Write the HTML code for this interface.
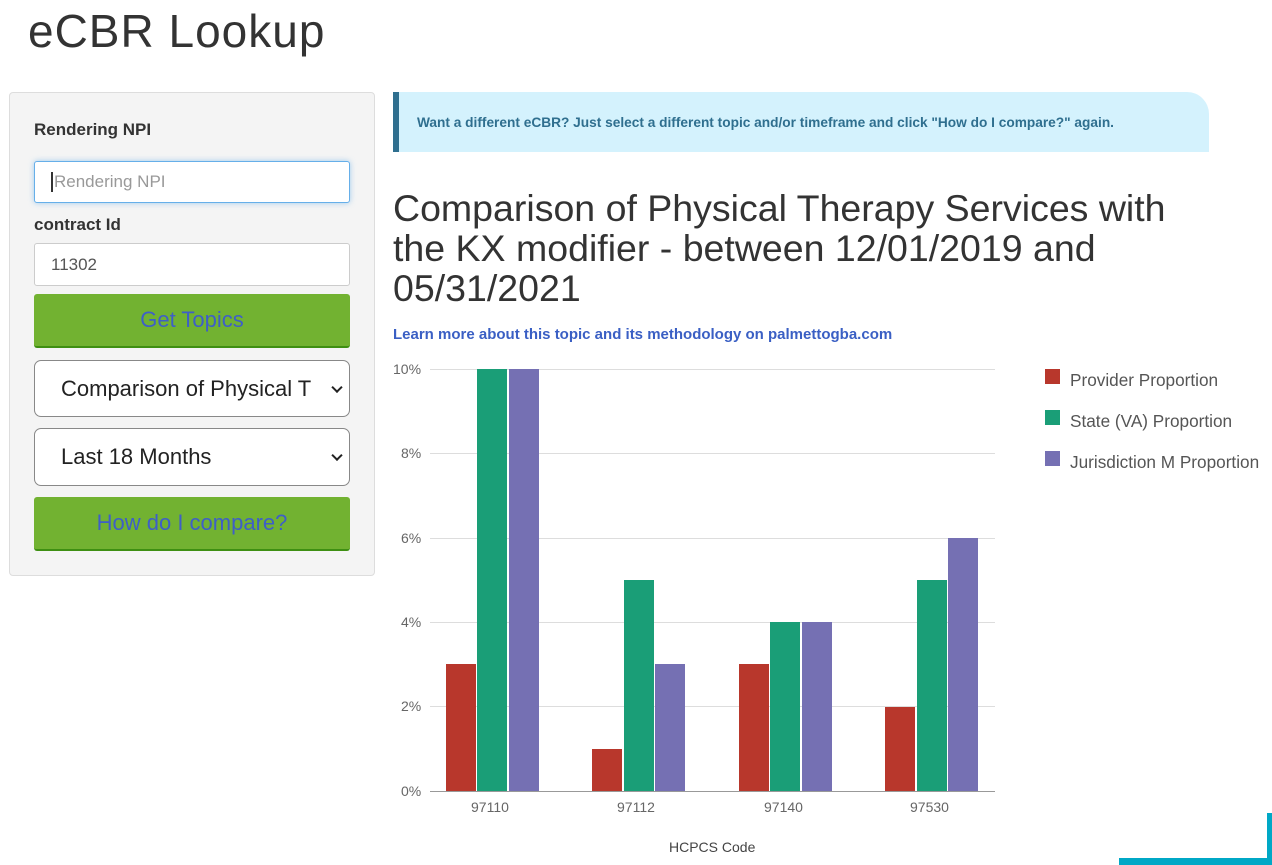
<!DOCTYPE html>
<html><head><meta charset="utf-8"><style>
*{box-sizing:border-box;margin:0;padding:0}
body{width:1272px;height:865px;background:#fff;font-family:"Liberation Sans",Arial,sans-serif;position:relative;overflow:hidden;color:#333}
.a{position:absolute}
.lbl{font-weight:bold;font-size:17px;color:#333}
.inp{background:#fff;border:1px solid #ccc;border-radius:3px;font-size:17px;padding-left:16px;display:flex;align-items:center}
.btn{background:#72b231;border-bottom:2px solid #3e8f12;border-radius:3px;color:#3e5fc7;font-size:22px;display:flex;align-items:center;justify-content:center}
.sel{background:#fff;border:1px solid #888;border-radius:7px;font-size:22px;color:#222;padding-left:26px;display:flex;align-items:center}
.chev{position:absolute;right:8px;top:50%;width:8px;height:8px;border-right:2px solid #222;border-bottom:2px solid #222;transform:translateY(-70%) rotate(45deg)}
.tick{font-size:14px;color:#666}
.grid{position:absolute;left:430px;width:565px;height:1px;background:#ddd}
.bar{position:absolute;width:30px}
.r{background:#b8372c}.g{background:#1a9e77}.p{background:#7570b3}
.leg{font-size:17.2px;color:#555}
</style></head><body>
<div class="a" style="left:28px;top:4px;font-size:46px;color:#333;letter-spacing:1px">eCBR Lookup</div>

<div class="a" style="left:9px;top:92px;width:366px;height:484px;background:#f4f4f4;border:1px solid #ddd;border-radius:4px"></div>
<div class="a lbl" style="left:34px;top:120px">Rendering NPI</div>
<div class="a inp" style="left:34px;top:161px;width:316px;height:42px;border-color:#66afe9;box-shadow:0 0 6px rgba(102,175,233,.6);color:#999"><span style="border-left:2px solid #333;padding-left:1px">Rendering NPI</span></div>
<div class="a lbl" style="left:34px;top:215px">contract Id</div>
<div class="a inp" style="left:34px;top:243px;width:316px;height:43px;color:#555">11302</div>
<div class="a btn" style="left:34px;top:294px;width:316px;height:54px">Get Topics</div>
<div class="a sel" style="left:34px;top:360px;width:316px;height:57px">Comparison of Physical T<div class="chev"></div></div>
<div class="a sel" style="left:34px;top:428px;width:316px;height:58px">Last 18 Months<div class="chev"></div></div>
<div class="a btn" style="left:34px;top:497px;width:316px;height:54px">How do I compare?</div>

<div class="a" style="left:393px;top:92px;width:816px;height:60px;background:#d4f2fd;border-left:6px solid #2f6f8f;border-radius:0 22px 0 0"></div>
<div class="a" style="left:417px;top:115px;font-size:13.7px;font-weight:bold;color:#2f6f8f">Want a different eCBR? Just select a different topic and/or timeframe and click "How do I compare?" again.</div>

<div class="a" style="left:393px;top:188px;font-size:37.5px;line-height:40px;color:#333;width:840px">Comparison of Physical Therapy Services with<br>the KX modifier - between 12/01/2019 and<br>05/31/2021</div>
<div class="a" style="left:393px;top:326px;font-size:15px;font-weight:bold;color:#3a5fc4">Learn more about this topic and its methodology on palmettogba.com</div>

<div class="grid" style="top:369px"></div>
<div class="grid" style="top:453px"></div>
<div class="grid" style="top:538px"></div>
<div class="grid" style="top:622px"></div>
<div class="grid" style="top:706px"></div>
<div class="grid" style="top:791px;background:#999"></div>
<div class="a tick" style="left:393px;top:361px">10%</div>
<div class="a tick" style="left:401px;top:445px">8%</div>
<div class="a tick" style="left:401px;top:530px">6%</div>
<div class="a tick" style="left:401px;top:614px">4%</div>
<div class="a tick" style="left:401px;top:698px">2%</div>
<div class="a tick" style="left:401px;top:783px">0%</div>

<div class="bar r" style="left:446px;top:664px;height:127px"></div>
<div class="bar g" style="left:477px;top:369px;height:422px"></div>
<div class="bar p" style="left:509px;top:369px;height:422px"></div>
<div class="bar r" style="left:592px;top:749px;height:42px"></div>
<div class="bar g" style="left:624px;top:580px;height:211px"></div>
<div class="bar p" style="left:655px;top:664px;height:127px"></div>
<div class="bar r" style="left:739px;top:664px;height:127px"></div>
<div class="bar g" style="left:770px;top:622px;height:169px"></div>
<div class="bar p" style="left:802px;top:622px;height:169px"></div>
<div class="bar r" style="left:885px;top:707px;height:84px"></div>
<div class="bar g" style="left:917px;top:580px;height:211px"></div>
<div class="bar p" style="left:948px;top:538px;height:253px"></div>

<div class="a tick" style="left:471px;top:799px">97110</div>
<div class="a tick" style="left:617px;top:799px">97112</div>
<div class="a tick" style="left:764px;top:799px">97140</div>
<div class="a tick" style="left:910px;top:799px">97530</div>
<div class="a tick" style="left:669px;top:839px;color:#444">HCPCS Code</div>

<div class="a r" style="left:1045px;top:369px;width:15px;height:15px"></div>
<div class="a leg" style="left:1070px;top:370px">Provider Proportion</div>
<div class="a g" style="left:1045px;top:410px;width:15px;height:15px"></div>
<div class="a leg" style="left:1070px;top:411px">State (VA) Proportion</div>
<div class="a p" style="left:1045px;top:451px;width:15px;height:15px"></div>
<div class="a leg" style="left:1070px;top:452px">Jurisdiction M Proportion</div>

<div class="a" style="left:1267px;top:813px;width:5px;height:52px;background:#00a8c6"></div>
<div class="a" style="left:1119px;top:858px;width:153px;height:7px;background:#00a8c6"></div>
</body></html>
